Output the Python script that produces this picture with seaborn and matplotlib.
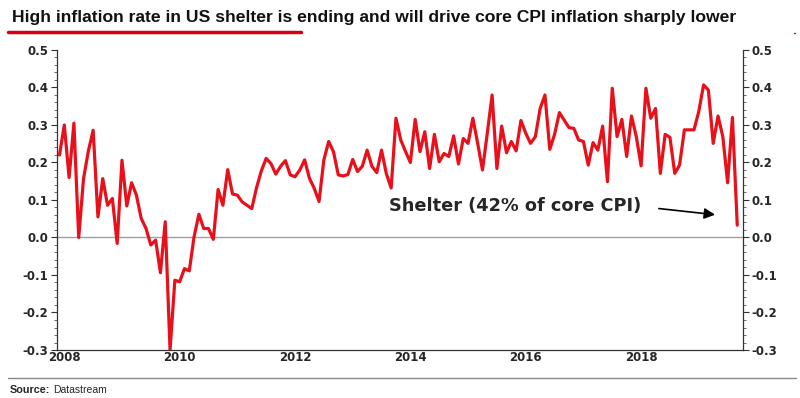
import numpy as np
import pandas as pd
import matplotlib
matplotlib.use("Agg")
import matplotlib.pyplot as plt
import seaborn as sns
from matplotlib.lines import Line2D
from matplotlib.ticker import MultipleLocator, FormatStrFormatter

# monthly shelter CPI, % m/m, Dec 2007 .. Sep 2019
start_month = -1  # Dec 2007 (Jan 2008 = 0)
shelter = [
    0.22,
    0.30, 0.16, 0.305, 0.00, 0.157, 0.23, 0.286, 0.055, 0.157, 0.086, 0.104, -0.016,
    0.206, 0.084, 0.146, 0.113, 0.051, 0.024, -0.02, -0.007, -0.094, 0.042, -0.30, -0.114,
    -0.118, -0.083, -0.089, 0.002, 0.062, 0.024, 0.024, -0.005, 0.128, 0.086, 0.181, 0.116,
    0.113, 0.095, 0.086, 0.077, 0.133, 0.178, 0.211, 0.197, 0.169, 0.19, 0.205, 0.167,
    0.162, 0.18, 0.207, 0.158, 0.131, 0.096, 0.207, 0.256, 0.229, 0.167, 0.164, 0.168,
    0.208, 0.176, 0.19, 0.233, 0.19, 0.173, 0.233, 0.17, 0.132, 0.318, 0.26, 0.229,
    0.20, 0.315, 0.229, 0.282, 0.184, 0.275, 0.202, 0.224, 0.216, 0.271, 0.196, 0.264,
    0.251, 0.318, 0.251, 0.18, 0.278, 0.38, 0.184, 0.297, 0.226, 0.256, 0.231, 0.312,
    0.278, 0.251, 0.269, 0.344, 0.38, 0.235, 0.275, 0.333, 0.313, 0.293, 0.291, 0.26,
    0.256, 0.193, 0.253, 0.233, 0.297, 0.149, 0.398, 0.269, 0.315, 0.216, 0.324, 0.269,
    0.191, 0.398, 0.318, 0.344, 0.171, 0.275, 0.267, 0.171, 0.193, 0.287, 0.287, 0.287,
    0.336, 0.407, 0.393, 0.251, 0.324, 0.269, 0.146, 0.32, 0.033,
]
year_ticks = [2008, 2010, 2012, 2014, 2016, 2018]
y_ticks = [-0.3, -0.2, -0.1, 0.0, 0.1, 0.2, 0.3, 0.4, 0.5]

title = "High inflation rate in US shelter is ending and will drive core CPI inflation sharply lower"
label_text = "Shelter (42% of core CPI)"

months = np.arange(start_month, start_month + len(shelter))
df = pd.DataFrame({"t": 2008 + months / 12.0, "shelter": shelter})

sns.set_style("white")
plt.rcParams["font.family"] = ["DejaVu Sans"]
narrow = ["Liberation Sans Narrow", "Liberation Sans", "DejaVu Sans"]

fig = plt.figure(figsize=(8, 3.98), dpi=100)
ax = fig.add_axes([0.071, 0.1206, 0.858, 0.7538])

ax.axhline(0, color="#a0a0a0", lw=1, zorder=1)
sns.lineplot(data=df, x="t", y="shelter", ax=ax, color="#e8101a", lw=2.3, zorder=3)

ax.set_xlim(2007.87, 2019.77)
ax.set_ylim(-0.3, 0.5)
ax.set_xlabel("")
ax.set_ylabel("")
ax.set_xticks(year_ticks)
ax.set_xticklabels([str(y) for y in year_ticks], fontsize=8.5, fontweight="bold")
ax.xaxis.set_minor_locator(MultipleLocator(0.25))
ax.set_yticks(y_ticks)
ax.yaxis.set_major_formatter(FormatStrFormatter("%.1f"))
ax.yaxis.set_minor_locator(MultipleLocator(0.02))
for lab in ax.get_yticklabels():
    lab.set_fontweight("bold")
    lab.set_fontsize(8.5)

for s in ["left", "right", "bottom"]:
    ax.spines[s].set_visible(True)
    ax.spines[s].set_color("#333333")
    ax.spines[s].set_linewidth(0.9)
ax.spines["top"].set_visible(False)

ax.tick_params(axis="x", which="major", direction="in", length=4, width=0.8, pad=1, color="#333333")
ax.tick_params(axis="x", which="minor", direction="in", length=2, width=0.6, color="#333333")
ax.tick_params(axis="y", which="major", direction="out", length=4, width=0.8, pad=2, color="#333333", left=True)
ax.tick_params(axis="y", which="minor", direction="out", length=2, width=0.5, color="#333333", left=True)

# right hand axis, same scale
ax2 = ax.twinx()
ax2.set_ylim(ax.get_ylim())
ax2.set_yticks(y_ticks)
ax2.yaxis.set_major_formatter(FormatStrFormatter("%.1f"))
ax2.yaxis.set_minor_locator(MultipleLocator(0.02))
for lab in ax2.get_yticklabels():
    lab.set_fontweight("bold")
    lab.set_fontsize(8.5)
ax2.tick_params(axis="y", which="major", direction="out", length=4, width=0.8, pad=2, color="#333333", right=True)
ax2.tick_params(axis="y", which="minor", direction="out", length=2, width=0.5, color="#333333", right=True)
for s in ax2.spines.values():
    s.set_visible(False)

# annotation
ax.text(2015.82, 0.085, label_text, ha="center", va="center", fontsize=12.8, fontweight="bold")
ax.annotate("", xy=(2019.33, 0.06), xytext=(2018.26, 0.078),
            arrowprops=dict(arrowstyle="-|>", color="black", lw=1.2, mutation_scale=16))

# title with red underline
fig.text(0.015, 0.955, title, ha="left", va="center", fontsize=12.6, fontweight="bold",
         family=narrow, color="#111111")
fig.add_artist(Line2D([0.01, 0.376], [0.92, 0.92], transform=fig.transFigure, color="#d7000f", lw=2.5))
fig.add_artist(Line2D([0.992, 0.994], [0.917, 0.917], transform=fig.transFigure, color="#d7000f", lw=1))

# source footer
fig.add_artist(Line2D([0.01, 0.995], [0.05, 0.05], transform=fig.transFigure, color="#888888", lw=1))
fig.text(0.012, 0.02, "Source:", ha="left", va="center", fontsize=7.8, fontweight="bold", family=narrow)
fig.text(0.067, 0.02, "Datastream", ha="left", va="center", fontsize=7.5, family=narrow)

fig.savefig("out.png", dpi=100)
